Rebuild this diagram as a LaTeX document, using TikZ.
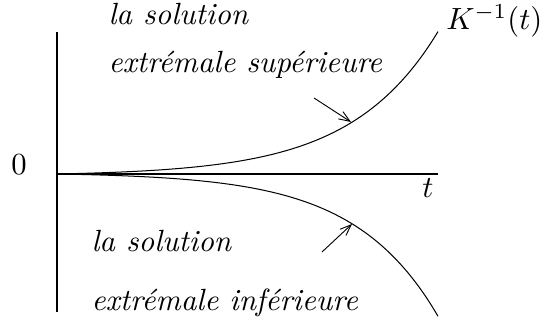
\documentclass[tikz,border=0pt]{standalone}
\usepackage{fontspec}
\usepackage{tikz}
\usetikzlibrary{arrows.meta}

\begin{document}
\begin{tikzpicture}[x=0.326pt,y=-0.326pt,every node/.style={font=\itshape,inner sep=0pt},
    axis/.style={line width=0.4pt},
    branch/.style={line width=0.33pt},
    pointer/.style={line width=0.3pt,-{Straight Barb[length=3.6pt,width=2.8pt,line width=0.3pt]}}]
  \useasboundingbox (0,0) rectangle (547,329);
  % axes
  \coordinate (origin) at (57,174);
  \coordinate (ytop) at (57,32);
  \coordinate (ybot) at (57,312);
  \coordinate (xend) at (438,174);
  \draw[axis] (ytop) -- (ybot);
  \draw[axis] (origin) -- (xend);
  % the two extremal solutions
  \draw[branch] plot[domain=57:438,samples=90,smooth] (\x,{174-1.80*(exp(0.0115*(\x-57))-1)});
  \draw[branch] plot[domain=57:438,samples=90,smooth] (\x,{174+1.49*(exp(0.012*(\x-57))-1)});
  \coordinate (uptip) at (351,122);
  \coordinate (lowtip) at (352,224);
  \coordinate (upfoot) at (314,98);
  \coordinate (lowfoot) at (322,252);
  \draw[pointer] (upfoot) -- (uptip);
  \draw[pointer] (lowfoot) -- (lowtip);
  % labels
  \node[anchor=base] (zero) at (19,175) {\upshape 0};
  \node[anchor=base] (tlab) at (428,198) {$t$};
  \node[anchor=base east] (klab) at (543,30) {$K^{-1}(t)$};
  \node[anchor=base west] (upA) at (108,25) {la solution};
  \node[anchor=base west] (upB) at (108,73) {extrémale supérieure};
  \node[anchor=base west] (lowA) at (91,252) {la solution};
  \node[anchor=base west] (lowB) at (91,311) {extrémale inférieure};
\end{tikzpicture}
\end{document}
